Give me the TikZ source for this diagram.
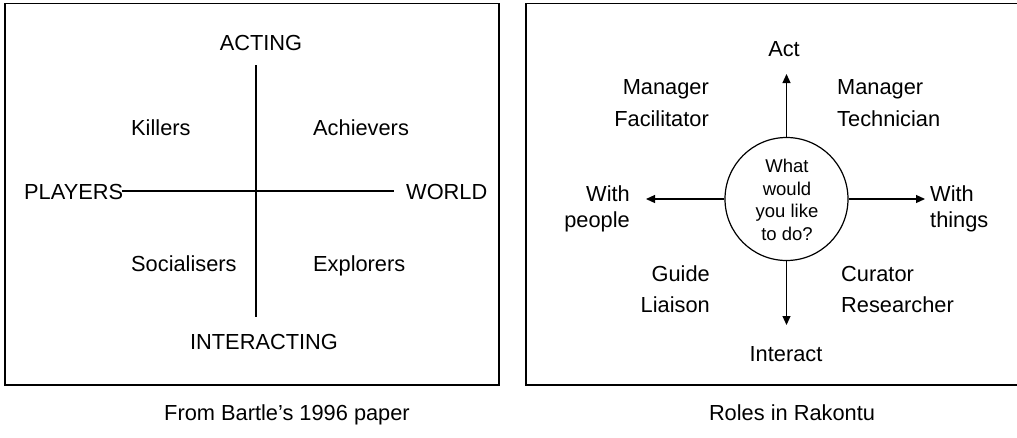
\documentclass[tikz,border=0pt]{standalone}
\usepackage{fontspec}
\setmainfont{Liberation Sans}
\usetikzlibrary{arrows.meta}
\begin{document}
\begin{tikzpicture}[x=1pt,y=-1pt,
  frame/.style={draw=black,line width=1.4pt},
  axis/.style={draw=black,line width=1.2pt},
  arr/.style={draw=black,line width=1.2pt,-{Triangle[length=9pt,width=8pt]}},
  lbl/.style={inner sep=0pt,font=\fontsize{21.8}{26}\selectfont},
  small/.style={inner sep=0pt,font=\fontsize{18.5}{22.6}\selectfont}]
\useasboundingbox (0,0) rectangle (1017,437);
\begin{scope}
\clip (0,0) rectangle (1017,437);
% left panel
\draw[frame] (5,3.5) rectangle (499,385);
\coordinate (vt) at (256,65);
\coordinate (vb) at (256,317);
\coordinate (hl) at (122,191);
\coordinate (hr) at (394,191);
\draw[axis] (vt) -- (vb);
\draw[axis] (hl) -- (hr);
\node[lbl,anchor=base] (acting) at (261,50) {ACTING};
\node[lbl,anchor=base] (interacting) at (264,349) {INTERACTING};
\node[lbl,anchor=base west] (players) at (24,199.5) {PLAYERS};
\node[lbl,anchor=base west] (world) at (406,199.5) {WORLD};
\node[lbl,anchor=base west] (killers) at (131,135) {Killers};
\node[lbl,anchor=base west] (achievers) at (313,135) {Achievers};
\node[lbl,anchor=base west] (socialisers) at (131,271) {Socialisers};
\node[lbl,anchor=base west] (explorers) at (313,271) {Explorers};
\node[lbl,anchor=base] (cap1) at (287,420.5) {From Bartle’s 1996 paper};
% right panel
\draw[frame] (526,3.5) rectangle (1030,385);
\node[draw=black,line width=1.2pt,circle,minimum size=123pt,inner sep=0pt] (q) at (786.5,199) {};
\node[small,anchor=base] (q1) at (787,172.3) {What};
\node[small,anchor=base] (q2) at (787,195) {would};
\node[small,anchor=base] (q3) at (787,217) {you like};
\node[small,anchor=base] (q4) at (787,240.5) {to do?};
\coordinate (up) at (786.5,74);
\coordinate (dn) at (786.5,325);
\coordinate (lf) at (646,199);
\coordinate (rt) at (925,199);
\draw[arr] (q.north) -- (up);
\draw[arr] (q.south) -- (dn);
\draw[arr] (q.west) -- (lf);
\draw[arr] (q.east) -- (rt);
\node[lbl,anchor=base] (act) at (784,56) {Act};
\node[lbl,anchor=base] (interact) at (786,361) {Interact};
\node[lbl,anchor=base east] (mgr1) at (709,94.3) {Manager};
\node[lbl,anchor=base east] (fac) at (709,126) {Facilitator};
\node[lbl,anchor=base west] (mgr2) at (837,94.3) {Manager};
\node[lbl,anchor=base west] (tech) at (837,126) {Technician};
\node[lbl,anchor=base east] (with1) at (630,201) {With};
\node[lbl,anchor=base east] (people) at (630,227) {people};
\node[lbl,anchor=base west] (with2) at (930,201) {With};
\node[lbl,anchor=base west] (things) at (930,227) {things};
\node[lbl,anchor=base east] (guide) at (710,281) {Guide};
\node[lbl,anchor=base east] (liaison) at (710,312.7) {Liaison};
\node[lbl,anchor=base west] (curator) at (841,281) {Curator};
\node[lbl,anchor=base west] (research) at (841,312.7) {Researcher};
\node[lbl,anchor=base] (cap2) at (792,420.5) {Roles in Rakontu};
\end{scope}
\end{tikzpicture}
\end{document}
